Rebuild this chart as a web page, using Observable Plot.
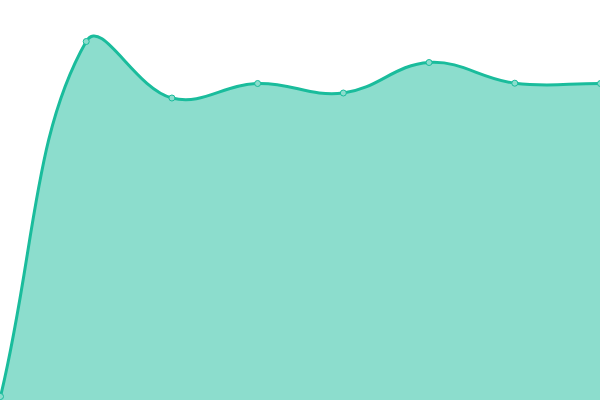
<!DOCTYPE html>
<html>
<head>
<meta charset="utf-8">
<script src="https://cdn.jsdelivr.net/npm/d3@7"></script>
<script src="https://cdn.jsdelivr.net/npm/@observablehq/plot@0.6"></script>
<style>
  html, body { margin: 0; padding: 0; background: #fff; }
</style>
</head>
<body>
<div id="chart"></div>
<script>
const categories = [0, 1, 2, 3, 4, 5, 6, 7];
const values = [4, 359, 302.5, 317, 307.5, 338, 317.3, 317];

const data = categories.map((c, i) => ({x: c, y: values[i]}));

// Bezier curve with tension 0.4 (spline through points)
function TensionCurve(context) { this._context = context; }
TensionCurve.prototype = {
  areaStart() { this._line = 0; },
  areaEnd() { this._line = NaN; },
  lineStart() { this._x = []; this._y = []; },
  point(x, y) { this._x.push(+x); this._y.push(+y); },
  lineEnd() {
    const xs = this._x, ys = this._y, n = xs.length, t = 0.4, ctx = this._context;
    if (n) {
      if (this._line) ctx.lineTo(xs[0], ys[0]); else ctx.moveTo(xs[0], ys[0]);
      const cp = [];
      for (let i = 0; i < n; i++) {
        const p = i > 0 ? i - 1 : i, q = i < n - 1 ? i + 1 : i;
        const d01 = Math.hypot(xs[i] - xs[p], ys[i] - ys[p]);
        const d12 = Math.hypot(xs[q] - xs[i], ys[q] - ys[i]);
        let s01 = d01 / (d01 + d12), s12 = d12 / (d01 + d12);
        if (!isFinite(s01)) s01 = 0;
        if (!isFinite(s12)) s12 = 0;
        const fa = t * s01, fb = t * s12;
        cp.push({
          px: xs[i] - fa * (xs[q] - xs[p]), py: ys[i] - fa * (ys[q] - ys[p]),
          nx: xs[i] + fb * (xs[q] - xs[p]), ny: ys[i] + fb * (ys[q] - ys[p])
        });
      }
      for (let i = 1; i < n; i++) {
        ctx.bezierCurveTo(cp[i - 1].nx, cp[i - 1].ny, cp[i].px, cp[i].py, xs[i], ys[i]);
      }
    }
    if (this._line || (this._line !== 0 && n === 1)) ctx.closePath();
    this._line = 1 - this._line;
  }
};
const tensionCurve = (ctx) => new TensionCurve(ctx);

const chart = Plot.plot({
  width: 600,
  height: 400,
  margin: 0,
  x: {domain: [0, 7], axis: null},
  y: {domain: [0, 400], axis: null},
  marks: [
    Plot.areaY(data, {x: "x", y: "y", curve: tensionCurve, fill: "#1abc9c", fillOpacity: 0.5}),
    Plot.lineY(data, {x: "x", y: "y", curve: tensionCurve, stroke: "#1abc9c", strokeWidth: 3}),
    Plot.dot(data, {x: "x", y: "y", r: 3, fill: "#8cddcd", stroke: "#1abc9c", strokeWidth: 1})
  ]
});
document.getElementById("chart").append(chart);
</script>
</body>
</html>
